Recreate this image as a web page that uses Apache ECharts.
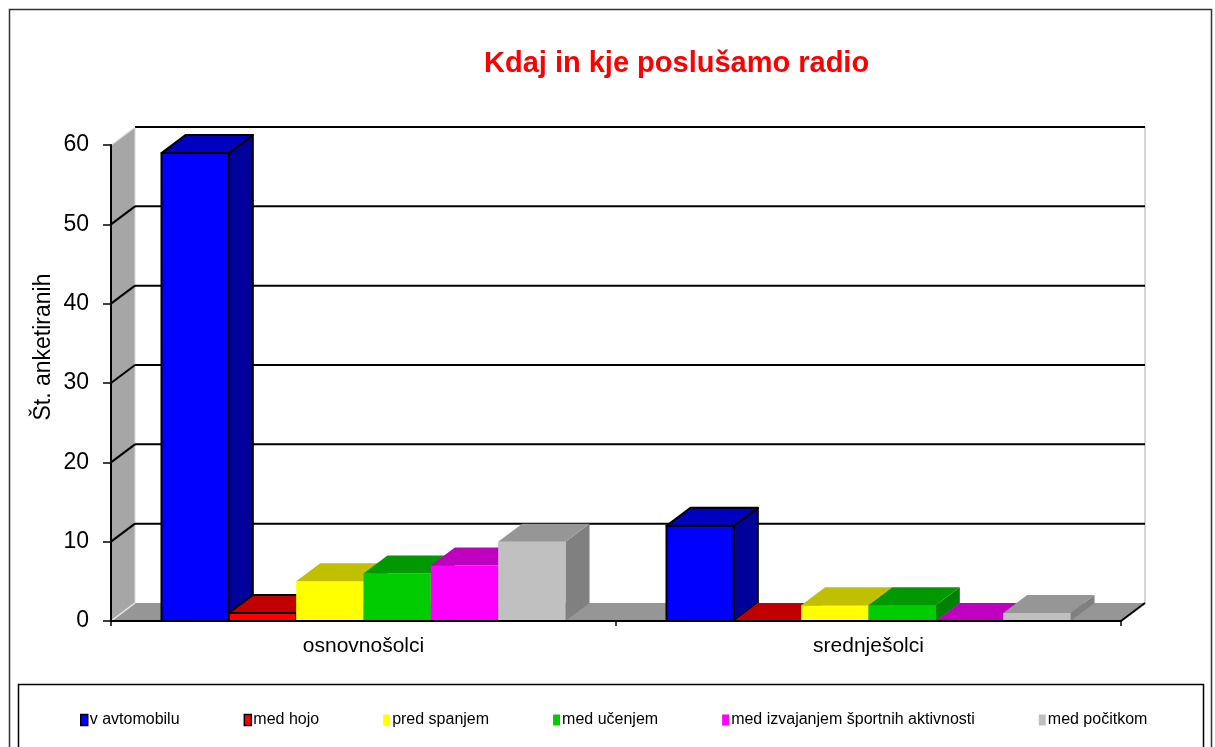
<!DOCTYPE html>
<html>
<head>
<meta charset="utf-8">
<script src="https://cdn.jsdelivr.net/npm/echarts@6/dist/echarts.min.js"></script>
<style>
  html, body { margin: 0; padding: 0; background: #fff; }
  #chart { width: 1215px; height: 747px; }
</style>
</head>
<body>
<div id="chart"></div>
<script>
// data
const categories = ['osnovnošolci', 'srednješolci']
const seriesNames = ['v avtomobilu', 'med hojo', 'pred spanjem', 'med učenjem', 'med izvajanjem športnih aktivnosti', 'med počitkom']
const vAvtomobilu = [59, 12]
const medHojo = [1, 0]
const predSpanjem = [5, 2]
const medUcenjem = [6, 2]
const medSportom = [7, 0]
const medPocitkom = [10, 1]
const yTicks = [0, 10, 20, 30, 40, 50, 60]

const seriesValues = [vAvtomobilu, medHojo, predSpanjem, medUcenjem, medSportom, medPocitkom]

// face colours: front, top, side
const faceColors = [
  ['#0000FF', '#0000C0', '#00009A'],
  ['#FF0000', '#C00000', '#990000'],
  ['#FFFF00', '#C0C000', '#999900'],
  ['#00CC00', '#009900', '#008000'],
  ['#FF00FF', '#C000C0', '#990099'],
  ['#C0C0C0', '#969696', '#808080'],
]
const outlined = [true, true, false, false, false, false]

const DX = 24
const DY = -18
const GAP = 0.1
const FONT = 'Arial, "Liberation Sans", sans-serif'

const chart = echarts.init(document.getElementById('chart'))

function renderWalls(params, api) {
  const cs = params.coordSys
  const gx = cs.x, gy = cs.y, gw = cs.width, gh = cs.height
  const by = gy + gh
  const children = [
    {
      type: 'polygon',
      shape: { points: [[gx, by], [gx, gy], [gx + DX, gy + DY], [gx + DX, by + DY]] },
      style: { fill: '#A6A6A6' },
    },
    {
      type: 'polygon',
      shape: { points: [[gx, by], [gx + gw, by], [gx + gw + DX, by + DY], [gx + DX, by + DY]] },
      style: { fill: '#969696' },
    },
    {
      type: 'line',
      shape: { x1: gx + gw + DX, y1: gy + DY, x2: gx + gw + DX, y2: by + DY },
      style: { stroke: '#C8C8C8', lineWidth: 1.5 },
    },
    {
      type: 'line',
      shape: { x1: gx + DX, y1: gy + DY, x2: gx + DX, y2: by + DY },
      style: { stroke: '#D8D8D8', lineWidth: 1 },
    },
  ]
  yTicks.forEach(function (t) {
    const y = api.coord([0, t])[1]
    const edge = t === 0 || t === yTicks[yTicks.length - 1]
    if (t !== 0) {
      children.push({
        type: 'line',
        shape: { x1: gx + DX, y1: y + DY, x2: gx + gw + DX, y2: y + DY },
        style: { stroke: '#000', lineWidth: 2 },
      })
    }
    children.push({
      type: 'line',
      shape: { x1: gx, y1: y, x2: gx + DX, y2: y + DY },
      style: { stroke: edge ? '#E8E8E8' : '#000', lineWidth: edge ? 1.5 : 2 },
    })
  })
  children.push({
    type: 'line',
    shape: { x1: gx + gw, y1: by, x2: gx + gw + DX, y2: by + DY },
    style: { stroke: '#000', lineWidth: 2 },
  })
  return { type: 'group', children: children }
}

function makeBarRenderer(idx) {
  const n = seriesValues.length
  return function (params, api) {
    const cat = api.value(0)
    const val = api.value(1)
    const base = api.coord([cat, 0])
    const top = api.coord([cat, val])
    const catW = api.size([1, 0])[0]
    const barW = catW * (1 - 2 * GAP) / n
    const x0 = base[0] - catW / 2 + catW * GAP + idx * barW
    const x1 = x0 + barW
    const c = faceColors[idx]
    const h = base[1] - top[1]
    const stroke = outlined[idx] && h > 0 ? { stroke: '#000', lineWidth: 2, lineJoin: 'round' } : {}
    const children = []
    if (h > 0) {
      children.push({
        type: 'polygon',
        shape: { points: [[x1, top[1]], [x1 + DX, top[1] + DY], [x1 + DX, base[1] + DY], [x1, base[1]]] },
        style: Object.assign({ fill: c[2] }, stroke),
      })
      children.push({
        type: 'rect',
        shape: { x: x0, y: top[1], width: barW, height: h },
        style: Object.assign({ fill: c[0] }, stroke),
      })
    }
    children.push({
      type: 'polygon',
      shape: { points: [[x0, top[1]], [x1, top[1]], [x1 + DX, top[1] + DY], [x0 + DX, top[1] + DY]] },
      style: Object.assign({ fill: c[1] }, stroke),
    })
    return { type: 'group', children: children }
  }
}

const series = [
  {
    type: 'custom',
    name: 'walls',
    z: 1,
    silent: true,
    data: [[0, 0]],
    renderItem: renderWalls,
  },
]
seriesNames.forEach(function (name, i) {
  series.push({
    type: 'custom',
    name: name,
    z: 3,
    itemStyle: { color: faceColors[i][0] },
    data: categories.map(function (c, k) { return [k, seriesValues[i][k]] }),
    renderItem: makeBarRenderer(i),
  })
})

chart.setOption({
  animation: false,
  textStyle: { fontFamily: FONT },
  title: {
    text: 'Kdaj in kje poslušamo radio',
    left: 479,
    top: 44,
    textStyle: { color: '#FF0000', fontSize: 29, fontWeight: 'bold', fontFamily: FONT },
  },
  grid: { left: 111, right: 94, top: 145, bottom: 126 },
  xAxis: {
    type: 'category',
    data: categories,
    z: 10,
    axisLine: { lineStyle: { color: '#000', width: 2 } },
    axisTick: { show: true, length: 5, lineStyle: { color: '#000', width: 1.5 } },
    axisLabel: { color: '#000', fontSize: 21, margin: 15 },
  },
  yAxis: {
    type: 'value',
    min: 0,
    max: 60,
    interval: 10,
    z: 10,
    axisLine: { show: true, lineStyle: { color: '#000', width: 2 } },
    axisTick: { show: true, length: 8, lineStyle: { color: '#000', width: 1.5 } },
    axisLabel: { color: '#000', fontSize: 23, margin: 22 },
    splitLine: { show: false },
  },
  legend: {
    data: seriesNames.map(function (name, i) {
      return {
        name: name,
        icon: 'rect',
        itemStyle: outlined[i]
          ? { color: faceColors[i][0], borderColor: '#000', borderWidth: 1.5 }
          : { color: faceColors[i][0] },
      }
    }),
    left: 75,
    top: 707,
    itemWidth: 7,
    itemHeight: 11,
    itemGap: 64,
    textStyle: { color: '#000', fontSize: 16, padding: [0, 0, 0, -3] },
  },
  graphic: [
    {
      type: 'rect',
      shape: { x: 9.5, y: 9.5, width: 1202, height: 760 },
      style: { fill: null, stroke: '#333', lineWidth: 1.5 },
      z: -1,
    },
    {
      type: 'rect',
      shape: { x: 18.5, y: 684.5, width: 1185, height: 80 },
      style: { fill: null, stroke: '#000', lineWidth: 1.5 },
      z: -1,
    },
    {
      type: 'text',
      x: 44,
      y: 347,
      rotation: Math.PI / 2,
      style: {
        text: 'Št. anketiranih',
        fill: '#000',
        font: '23px ' + FONT,
        align: 'center',
        verticalAlign: 'middle',
      },
    },
  ],
  series: series,
})
</script>
</body>
</html>
